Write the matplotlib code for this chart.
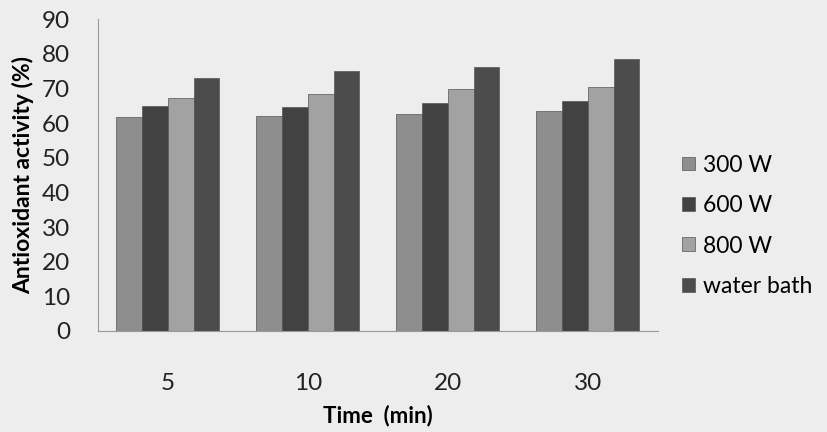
"""
Antioxidant activity vs extraction time, grouped bars.
"""
import matplotlib
matplotlib.use("Agg")
import matplotlib.pyplot as plt
import numpy as np

times = ["5", "10", "20", "30"]
series_names = ["300 W", "600 W", "800 W", "water bath"]
w300 = [61.8, 62.1, 62.7, 63.4]
w600 = [65.0, 64.7, 65.8, 66.3]
w800 = [67.2, 68.3, 69.7, 70.4]
water_bath = [73.0, 75.1, 76.3, 78.5]
colors = ["#8e8e8e", "#424242", "#a2a2a2", "#4c4c4c"]

plt.rcParams["font.family"] = ["Lato", "DejaVu Sans"]

fig = plt.figure(figsize=(8.27, 4.32), dpi=100)
fig.patch.set_facecolor("#ededed")
ax = fig.add_axes([0.1185, 0.2338, 0.677, 0.722])
ax.set_facecolor("#ededed")

x = np.arange(len(times))
width = 0.184
for i, (vals, name, c) in enumerate(zip([w300, w600, w800, water_bath], series_names, colors)):
    ax.bar(x + (i - 1.5) * width, vals, width, color=c, edgecolor="#555555",
           linewidth=0.5, label=name)

ax.set_xlim(-0.5, 3.5)
ax.set_ylim(0, 90)
ax.set_yticks(range(0, 91, 10))
ax.set_xticks(x)
ax.set_xticklabels(times)
ax.tick_params(axis="both", length=0, labelsize=17.5, colors="#222222")
ax.tick_params(axis="x", pad=30)
ax.tick_params(axis="y", pad=20)
for side in ["top", "right"]:
    ax.spines[side].set_visible(False)
for side in ["left", "bottom"]:
    ax.spines[side].set_color("#999999")
    ax.spines[side].set_linewidth(0.8)

ax.set_ylabel("Antioxidant activity (%)", fontsize=16.5, fontweight="bold", labelpad=6)
ax.set_xlabel("Time  (min)", fontsize=16, fontweight="bold", labelpad=8)

fig.legend(loc="upper left", bbox_to_anchor=(0.8, 0.69), frameon=False,
           fontsize=16.5, handlelength=0.55, handleheight=0.55, handletextpad=0.35,
           labelspacing=0.85)

fig.savefig("out.png", dpi=100, facecolor=fig.get_facecolor())
